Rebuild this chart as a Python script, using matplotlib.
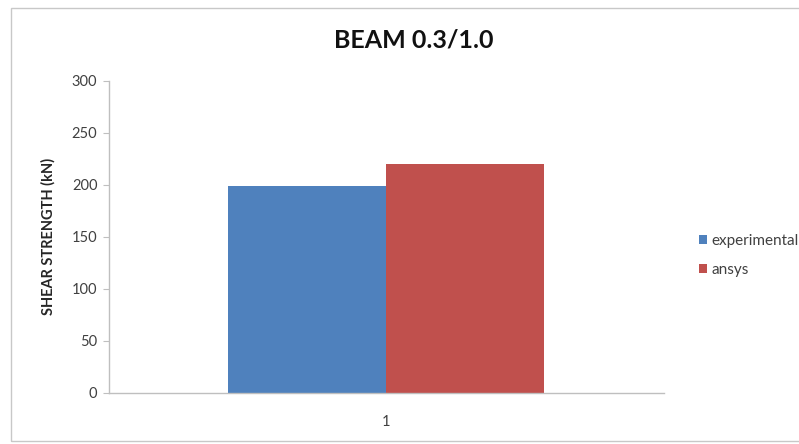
import matplotlib.pyplot as plt
from matplotlib.patches import Rectangle
import numpy as np

# data
categories = ["1"]
series_names = ["experimental", "ansys"]
experimental = [199]
ansys = [220]
y_ticks = [0, 50, 100, 150, 200, 250, 300]

colors = ["#4F81BD", "#C0504D"]
text_grey = "#404040"

plt.rcParams['font.family'] = ['Lato', 'DejaVu Sans']

fig = plt.figure(figsize=(7.99, 4.44), dpi=100)
ax = fig.add_axes([0.1358, 0.1149, 0.695, 0.7036])

x = np.arange(len(categories))
bar_w = 0.284
ax.bar(x - bar_w / 2, experimental, width=bar_w, color=colors[0], label=series_names[0])
ax.bar(x + bar_w / 2, ansys, width=bar_w, color=colors[1], label=series_names[1])

ax.set_xlim(-0.5, 0.5)
ax.set_ylim(0, 300)
ax.set_yticks(y_ticks)
ax.set_xticks(x)
ax.set_xticklabels(categories)

for side in ["top", "right"]:
    ax.spines[side].set_visible(False)
for side in ["left", "bottom"]:
    ax.spines[side].set_color("#BFBFBF")
    ax.spines[side].set_linewidth(1.0)

ax.tick_params(axis="y", colors="#BFBFBF", labelcolor=text_grey, labelsize=10.5, length=4, pad=4)
ax.tick_params(axis="x", length=0, labelcolor=text_grey, labelsize=10.5, pad=16)

ax.set_ylabel("SHEAR STRENGTH (kN)", fontsize=10.5, fontweight="bold", color="#262626", labelpad=12)
fig.suptitle("BEAM 0.3/1.0", x=0.518, y=0.935, fontsize=18, fontweight="bold", color="#111111")

fig.legend(loc="center left", bbox_to_anchor=(0.858, 0.425), frameon=False,
           fontsize=11, handlelength=0.5, handleheight=0.5, handletextpad=0.3,
           labelspacing=1.0, labelcolor=text_grey)

# thin outer chart-area border, like the spreadsheet export
fig.patches.append(Rectangle((0.014, 0.007), 1.0, 0.975, transform=fig.transFigure,
                             fill=False, edgecolor="#C8C8C8", linewidth=1.0))

fig.savefig("out.png", dpi=100)
